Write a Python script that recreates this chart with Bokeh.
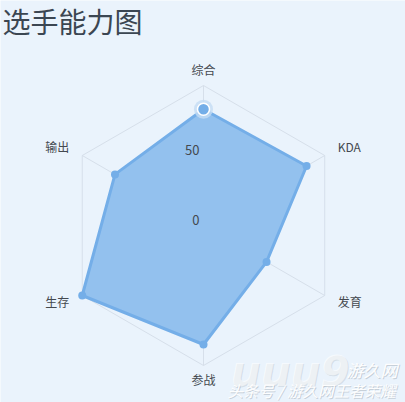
import numpy as np
from bokeh.plotting import figure
from bokeh.models import Range1d
from bokeh.core.properties import value
from bokeh.embed import file_html
from bokeh.resources import INLINE

# ---- data ----
title_text = "选手能力图"
categories = ["综合", "KDA", "发育", "参战", "生存", "输出"]
values = [83, 85, 52, 85, 100, 73]
max_value = 100
ring_values = [50, 100]
tick_values = [0, 50]
tick_labels = ["0", "50"]
highlight_index = 0
watermark_main = "头条号 / 游久网王者荣耀"
watermark_logo = "uuu9"
watermark_site = "游久网"

# ---- style / layout ----
BG = "#eaf3fc"
GRID = "#d6dfea"
FILL = "#93c1ee"
LINE = "#74aee8"
TEXT = "#44494f"
FONT = value("Noto Sans CJK SC")
R = 140.0          # outer radius in px
NAME_GAP = 15.0

W, H = 405, 402
p = figure(width=W, height=H, output_backend="svg", toolbar_location=None,
           x_range=Range1d(-203, 202), y_range=Range1d(-177, 225),
           min_border=0, outline_line_color=None,
           background_fill_color=BG, border_fill_color=BG,
           x_axis_location=None, y_axis_location=None)
p.xgrid.visible = False
p.ygrid.visible = False

n = len(categories)
ang = np.deg2rad(90 - 360.0 / n * np.arange(n))
cx, cy = np.cos(ang), np.sin(ang)

# grid rings
for rv in ring_values:
    rr = rv / max_value * R
    xs = list(rr * cx) + [rr * cx[0]]
    ys = list(rr * cy) + [rr * cy[0]]
    p.line(xs, ys, line_color=GRID, line_width=1)
# spokes
p.segment(x0=[0] * n, y0=[0] * n, x1=list(R * cx), y1=list(R * cy),
          line_color=GRID, line_width=1)

# data polygon
vr = np.array(values) / max_value * R
px, py = vr * cx, vr * cy
p.patch(list(px), list(py), fill_color=FILL, fill_alpha=1.0,
        line_color=LINE, line_width=3, line_join="round")
mask = [i for i in range(n) if i != highlight_index]
p.scatter([px[i] for i in mask], [py[i] for i in mask], size=8,
          fill_color=LINE, line_color=None)
h = highlight_index
p.scatter([px[h]], [py[h]], size=19, fill_color="#c4dcf4", fill_alpha=0.8, line_color=None)
p.scatter([px[h]], [py[h]], size=12, fill_color=LINE, line_color="white", line_width=1.5)

# category names
lr = R + NAME_GAP
aligns = ["center" if abs(c) < 1e-6 else ("left" if c > 0 else "right") for c in cx]
p.text(list(lr * cx), list(lr * cy + 1.5), text=categories, text_align=aligns,
       text_baseline="middle", text_font=FONT, text_font_size="12px",
       text_color=TEXT)

# tick labels on top axis
tv = np.array(tick_values) / max_value * R
p.text([-4] * len(tick_values), list(tv + 1), text=tick_labels, text_align="right",
       text_baseline="bottom", text_font=FONT, text_font_size="13px",
       text_color=TEXT)

# title
p.text([-201], [205], text=[title_text], text_align="left", text_baseline="middle",
       text_font=FONT, text_font_size="28px", text_color="#3b4652")

# watermark
for dx, dy, col, al in [(1, -1, "#9aa3ac", 0.45), (0, 0, "white", 0.95)]:
    p.text([27 + dx], [-146 + dy], text=[watermark_logo], text_align="left",
           text_baseline="middle", text_font=value("DejaVu Sans"),
           text_font_size="42px", text_font_style="bold italic",
           text_color=col, text_alpha=al * 0.6)
    p.text([143 + dx], [-144 + dy], text=[watermark_site], text_align="left",
           text_baseline="middle", text_font=FONT, text_font_size="17px",
           text_font_style="italic", text_color=col, text_alpha=al)
    p.text([24 + dx], [-164 + dy], text=[watermark_main], text_align="left",
           text_baseline="middle", text_font=FONT, text_font_size="15.5px",
           text_font_style="italic", text_color=col, text_alpha=al)

open("out.html", "w").write(file_html(p, INLINE))
